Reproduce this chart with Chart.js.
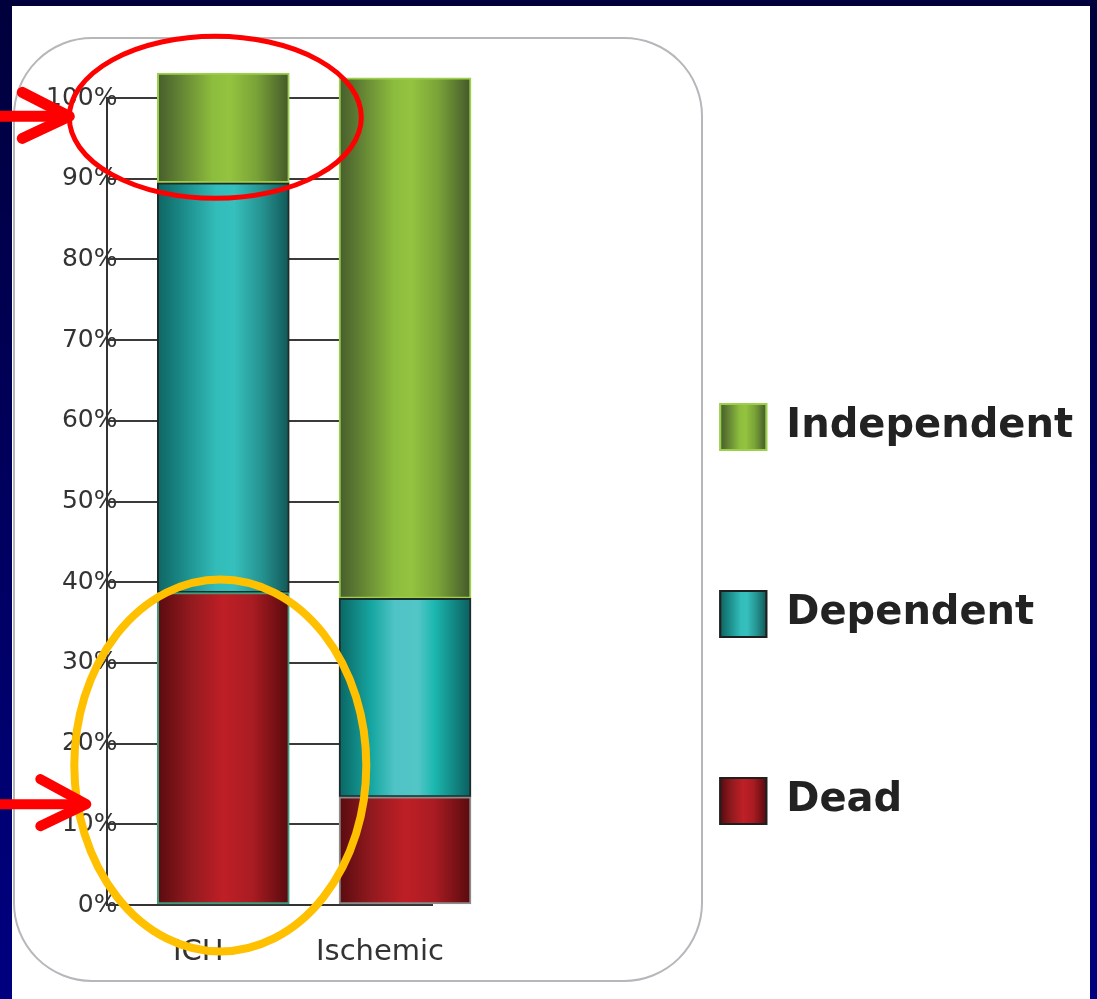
<!DOCTYPE html>
<html>
<head>
<meta charset="utf-8">
<script src="https://cdn.jsdelivr.net/npm/chart.js@4.4.1/dist/chart.umd.min.js"></script>
<style>
  html, body { margin: 0; padding: 0; width: 1097px; height: 999px; overflow: hidden;
    background: linear-gradient(#00003c, #000080); }
  #sheet { position: absolute; left: 12px; top: 6px; width: 1078px; height: 993px; background: #fff; }
  #c { position: absolute; left: 0; top: 0; }
</style>
</head>
<body>
<div id="sheet"></div>
<canvas id="c" width="1097" height="999"></canvas>
<script>
// Outcome share by stroke type (percent of patients)
const categories  = ['ICH', 'Ischemic'];
const dead        = [38.7, 13.4];
const dependent   = [50.8, 24.6];
const independent = [13.6, 64.5];
const percentTicks = [0, 10, 20, 30, 40, 50, 60, 70, 80, 90, 100];

const BAR_W = 132;

// cylinder-style shading across each bar: dark edges, bright middle
const greenStops = [[0, '#475d2c'], [0.15, '#5f7e33'], [0.42, '#8dbd3d'], [0.55, '#93c33f'], [0.75, '#7aa338'], [1, '#445829']];
const tealStopsA = [[0, '#0f6563'], [0.2, '#1b8c8a'], [0.45, '#33bdba'], [0.58, '#36c0bd'], [0.8, '#24918f'], [1, '#115857']];
const tealStopsB = [[0, '#0a6664'], [0.25, '#17a7a2'], [0.42, '#4fc3c5'], [0.6, '#52c5c7'], [0.72, '#1cb8b0'], [1, '#0a5e5d']];
const redStops   = [[0, '#590b0f'], [0.25, '#921a1f'], [0.5, '#bf1f26'], [0.72, '#a91c22'], [1, '#580a0e']];

function cylinder(stopsPerBar, flat) {
  return (c) => {
    const chart = c.chart;
    const xs = chart.scales && chart.scales.x;
    if (!chart.chartArea || !xs || c.dataIndex === undefined) return flat;
    const cx = xs.getPixelForValue(c.dataIndex);
    const g = chart.ctx.createLinearGradient(cx - BAR_W / 2, 0, cx + BAR_W / 2, 0);
    for (const [o, col] of stopsPerBar[c.dataIndex]) g.addColorStop(o, col);
    return g;
  };
}

const seriesStyle = [
  { label: 'Dead',        values: dead,        stops: [redStops, redStops],     flat: '#b01d23', border: ['#3f9c7c', '#8c8c8c'], key: '#1f1f1f' },
  { label: 'Dependent',   values: dependent,   stops: [tealStopsA, tealStopsB], flat: '#2aa9a7', border: ['#1d2b2b', '#1d2b2b'], key: '#1f1f1f' },
  { label: 'Independent', values: independent, stops: [greenStops, greenStops], flat: '#85b23b', border: ['#9ccf4c', '#9ccf4c'], key: '#9ccf4c' }
];

const datasets = seriesStyle.map(s => ({
  label: s.label,
  data: s.values.map((v, i) => ({ x: i, y: v })),
  backgroundColor: cylinder(s.stops, s.flat),
  borderColor: s.border,
  borderWidth: 2,
  borderSkipped: false,
  barThickness: BAR_W,
  clip: false
}));

Chart.defaults.font.family = '"DejaVu Sans", Verdana, sans-serif';

// let the legend take the full width its labels need
const wideLegend = {
  id: 'wideLegend',
  beforeLayout(chart) {
    const lg = chart.legend;
    if (lg && !lg.__wide) {
      const fit = lg.fit;
      lg.fit = function () { this.maxWidth = chart.width; return fit.call(this); };
      lg.__wide = true;
    }
  }
};

// rounded frame behind the plot
const framePlugin = {
  id: 'frame',
  beforeDraw(chart) {
    const ctx = chart.ctx;
    const x0 = 14, y0 = 38, x1 = 702, y1 = 981, r = 78;
    ctx.save();
    ctx.beginPath();
    ctx.moveTo(x0 + r, y0);
    ctx.lineTo(x1 - r, y0);
    ctx.arcTo(x1, y0, x1, y0 + r, r);
    ctx.lineTo(x1, y1 - r);
    ctx.arcTo(x1, y1, x1 - r, y1, r);
    ctx.lineTo(x0 + r, y1);
    ctx.arcTo(x0, y1, x0, y1 - r, r);
    ctx.lineTo(x0, y0 + r);
    ctx.arcTo(x0, y0, x0 + r, y0, r);
    ctx.closePath();
    ctx.fillStyle = '#ffffff';
    ctx.fill();
    ctx.lineWidth = 2;
    ctx.strokeStyle = '#b5b7ba';
    ctx.stroke();
    ctx.restore();
  }
};

// shaded legend swatches drawn over the legend's own boxes
const swatchPlugin = {
  id: 'swatches',
  afterDraw(chart) {
    const legend = chart.legend;
    if (!legend || !legend.legendHitBoxes) return;
    const ctx = chart.ctx;
    const bw = legend.options.labels.boxWidth, bh = legend.options.labels.boxHeight;
    legend.legendHitBoxes.forEach((hb, i) => {
      const item = legend.legendItems[i];
      const s = seriesStyle[item.datasetIndex];
      const g = ctx.createLinearGradient(hb.left, 0, hb.left + bw, 0);
      for (const [o, col] of s.stops[0]) g.addColorStop(o, col);
      ctx.save();
      ctx.fillStyle = g;
      ctx.fillRect(hb.left, hb.top, bw, bh);
      ctx.lineWidth = 2;
      ctx.strokeStyle = s.key;
      ctx.strokeRect(hb.left, hb.top, bw, bh);
      ctx.restore();
    });
  }
};

// hand-drawn style callouts around the ICH bar
const calloutPlugin = {
  id: 'callouts',
  afterDraw(chart) {
    const ctx = chart.ctx;
    const xs = chart.scales.x, ys = chart.scales.y;
    const ichX = xs.getPixelForValue(0);
    ctx.save();
    ctx.lineCap = 'round';
    ctx.lineJoin = 'round';

    // red ring around the top segment
    const rcx = ichX - 8, rcy = ys.getPixelForValue(97.6);
    ctx.strokeStyle = '#ff0000';
    ctx.lineWidth = 5;
    ctx.beginPath();
    ctx.ellipse(rcx, rcy, 146, 81, 0, 0, Math.PI * 2);
    ctx.stroke();

    // gold ring around the bottom segment
    const ocx = ichX - 3, ocy = ys.getPixelForValue(17.3);
    ctx.strokeStyle = '#ffc000';
    ctx.lineWidth = 8;
    ctx.beginPath();
    ctx.ellipse(ocx, ocy, 146, 186, 0, 0, Math.PI * 2);
    ctx.stroke();

    // arrows
    function arrow(tx, ty, len, armDx, armUp, armDown, w) {
      ctx.strokeStyle = '#ff0000';
      ctx.lineWidth = w;
      ctx.beginPath();
      ctx.moveTo(tx - len, ty);
      ctx.lineTo(tx - 4, ty);
      ctx.stroke();
      ctx.beginPath();
      ctx.moveTo(tx - armDx, ty - armUp);
      ctx.lineTo(tx, ty);
      ctx.lineTo(tx - armDx, ty + armDown);
      ctx.stroke();
    }
    arrow(rcx - 146, rcy - 1, 80, 47, 24, 22, 11);
    arrow(ocx - 134, ys.getPixelForValue(12.5), 95, 46, 25, 22, 10);
    ctx.restore();
  }
};

new Chart(document.getElementById('c'), {
  type: 'bar',
  data: { datasets },
  options: {
    responsive: false,
    animation: false,
    events: [],
    layout: { padding: { left: 0, top: 98, right: 14, bottom: 34 } },
    scales: {
      x: {
        type: 'linear',
        offset: false,
        min: -0.64,
        max: 1.15,
        stacked: true,
        afterBuildTicks: (s) => { s.ticks = categories.map((_, i) => ({ value: i })); },
        afterFit: (s) => { s.height = 60; },
        grid: { display: false, drawTicks: false },
        border: { display: true, color: '#333333', width: 2 },
        ticks: {
          callback: (v) => categories[v] ?? '',
          autoSkip: false,
          maxRotation: 0,
          labelOffset: -25,
          padding: 30,
          color: '#333333',
          font: { size: 29 }
        }
      },
      y: {
        stacked: true,
        min: 0,
        max: 100,
        afterBuildTicks: (s) => { s.ticks = percentTicks.map(v => ({ value: v })); },
        afterFit: (s) => { s.width = 107; },
        grid: { color: '#3a3a3a', lineWidth: 2, drawTicks: false },
        border: { display: true, color: '#333333', width: 2 },
        ticks: {
          callback: (v) => v + '%',
          mirror: true,
          crossAlign: 'far',
          padding: -61,
          color: '#333333',
          font: { size: 25 }
        }
      },
      gap: {
        type: 'linear',
        position: 'right',
        display: true,
        grid: { display: false },
        border: { display: false },
        ticks: { display: false },
        afterFit: (s) => { s.width = 147; }
      }
    },
    plugins: {
      tooltip: { enabled: false },
      legend: {
        position: 'right',
        align: 'end',
        reverse: true,
        labels: {
          boxWidth: 46,
          boxHeight: 46,
          padding: 141,
          color: '#222222',
          font: { size: 40, weight: 'bold' },
          generateLabels: (chart) => Chart.defaults.plugins.legend.labels.generateLabels(chart).map(item => {
            const s = seriesStyle[item.datasetIndex];
            return Object.assign(item, { fillStyle: s.flat, strokeStyle: s.key, lineWidth: 2 });
          })
        }
      }
    }
  },
  plugins: [wideLegend, framePlugin, swatchPlugin, calloutPlugin]
});
</script>
</body>
</html>
